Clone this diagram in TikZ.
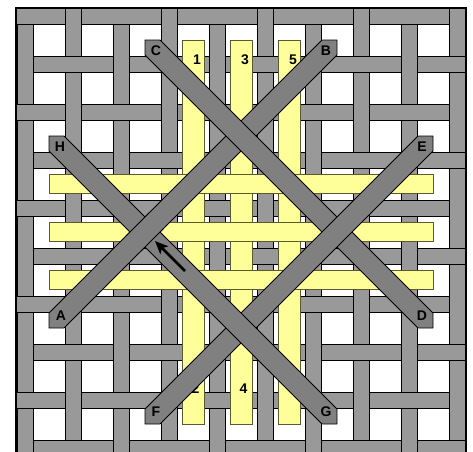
\documentclass[tikz,border=0pt]{standalone}
\usepackage{fontspec}
\setmainfont{Liberation Sans}
\usetikzlibrary{arrows.meta}
\definecolor{gridgray}{HTML}{999999}
\definecolor{diaggray}{HTML}{808080}
\definecolor{yel}{HTML}{FFFF99}
\definecolor{yeledge}{HTML}{5A5A30}
\tikzset{
  gridstrip/.style={fill=gridgray,draw=black,line width=0.8pt},
  yelstrip/.style={fill=yel,draw=yeledge,line width=0.7pt},
  diagstrip/.style={fill=diaggray,draw=black,line width=0.8pt,line join=miter},
  lbl/.style={font=\fontsize{14}{16}\selectfont\bfseries,inner sep=0pt},
  arrowline/.style={line width=2.5pt,-{Stealth[length=13pt,width=11pt,inset=3pt]}}
}
\begin{document}
\begin{tikzpicture}[x=1pt,y=-1pt]
\useasboundingbox (0,0) rectangle (473,451);
\clip (0,0) rectangle (473,451);
\fill[white] (0,0) rectangle (473,451);
% gray plain weave
\foreach \j in {0,...,9} { \draw[gridstrip] (17,8+48*\j) rectangle (465,24+48*\j); }
\foreach \i in {0,...,9} { \draw[gridstrip] (17+48*\i,8) rectangle (33+48*\i,470); }
\foreach \i in {0,...,9} {
  \foreach \j in {0,...,9} {
    \pgfmathtruncatemacro{\s}{\i+\j}
    \ifodd\s\relax\else
      \fill[gridgray] (16+48*\i,8+48*\j) rectangle (34+48*\i,24+48*\j);
      \draw[black,line width=0.8pt] (16+48*\i,8+48*\j) -- (34+48*\i,8+48*\j);
      \draw[black,line width=0.8pt] (16+48*\i,24+48*\j) -- (34+48*\i,24+48*\j);
    \fi
  }
}
% yellow strips
\foreach \x in {193,241,289} { \draw[yelstrip] (\x-11,40) rectangle (\x+11,424); }
\foreach \y in {183.5,231.5,279.5} { \draw[yelstrip] (49,\y-9.5) rectangle (433,\y+9.5); }
\node[lbl] (n1) at (197,60) {1};
\node[lbl] (n3) at (245,60) {3};
\node[lbl] (n5) at (293,60) {5};
\node[lbl] (n2) at (195.5,389) {2};
\node[lbl] (n4) at (243.5,389) {4};
% diagonal strips
\draw[diagstrip] (337,40) -- (322,40) -- (49,313) -- (49,328) -- (64,328) -- (337,55) -- cycle; % B-A
\draw[diagstrip] (145,40) -- (160,40) -- (433,313) -- (433,328) -- (418,328) -- (145,55) -- cycle; % C-D
\draw[diagstrip] (433,136) -- (418,136) -- (145,409) -- (145,424) -- (160,424) -- (433,151) -- cycle; % E-F
\draw[diagstrip] (49,136) -- (64,136) -- (337,409) -- (337,424) -- (322,424) -- (49,151) -- cycle; % H-G
\begin{scope}
  \clip (145,232) circle[radius=20pt];
  \draw[diagstrip] (337,40) -- (322,40) -- (49,313) -- (49,328) -- (64,328) -- (337,55) -- cycle;
\end{scope}
% labels
\node[lbl] (C) at (156,51) {C};
\node[lbl] (B) at (326,51) {B};
\node[lbl] (H) at (60,147) {H};
\node[lbl] (E) at (422,147) {E};
\node[lbl] (A) at (61,316) {A};
\node[lbl] (D) at (422,316) {D};
\node[lbl] (F) at (156,412) {F};
\node[lbl] (G) at (326,412) {G};
% arrow
\coordinate (at) at (185,271);
\coordinate (ah) at (155,241);
\draw[arrowline] (at) -- (ah);
% frame
\draw[line width=2pt] (16,470) -- (16,7.5) -- (465.5,7.5) -- (465.5,470);
\end{tikzpicture}
\end{document}
